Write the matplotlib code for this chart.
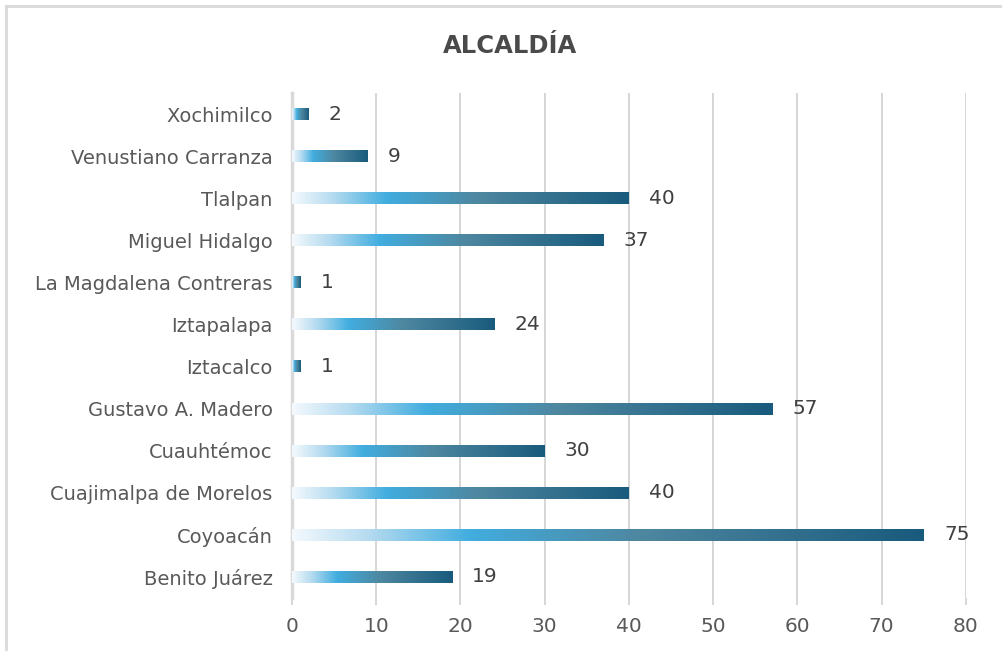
import matplotlib
matplotlib.use('Agg')
import matplotlib.pyplot as plt
from matplotlib.colors import LinearSegmentedColormap
from matplotlib.lines import Line2D
import numpy as np

plt.rcParams['font.family'] = ['DejaVu Sans']

Alcaldias = ['Benito Juárez', 'Coyoacán', 'Cuajimalpa de Morelos', 'Cuauhtémoc',
             'Gustavo A. Madero', 'Iztacalco', 'Iztapalapa', 'La Magdalena Contreras',
             'Miguel Hidalgo', 'Tlalpan', 'Venustiano Carranza', 'Xochimilco']
Valores = [19, 75, 40, 30, 57, 1, 24, 1, 37, 40, 9, 2]
Ticks = [0, 10, 20, 30, 40, 50, 60, 70, 80]

textColor = '#595959'
gradCmap = LinearSegmentedColormap.from_list(
    'grad', [(0.0, '#f4f9fd'), (0.12, '#b5dbf0'), (0.28, '#41addf'),
             (0.55, '#4e87a0'), (1.0, '#195b7d')])

fig = plt.figure(figsize=(10.02, 6.51), dpi=100)
ax = fig.add_axes([0.2914, 0.0814, 0.6726, 0.7756])

# marco del grafico (solo izquierda y arriba se ven)
x0, y0 = 6/1002, 1 - 6/651
fig.lines.append(Line2D([x0, x0], [0, y0], transform=fig.transFigure,
                        color='#d9d9d9', linewidth=2))
fig.lines.append(Line2D([x0, 1], [y0, y0], transform=fig.transFigure,
                        color='#d9d9d9', linewidth=2))

barH = 0.28
grad = np.linspace(0, 1, 256).reshape(1, -1)
for i, v in enumerate(Valores):
    ax.imshow(grad, cmap=gradCmap, aspect='auto', interpolation='bilinear',
              extent=(0, v, i - barH/2, i + barH/2), zorder=3)
    ax.annotate(str(v), (v, i), xytext=(14.5, 0), textcoords='offset points',
                va='center', ha='left', fontsize=14.5, color='#404040')

ax.set_xlim(0, 80)
ax.set_ylim(-0.5, len(Valores) - 0.5)
ax.set_xticks(Ticks)
ax.set_yticks(range(len(Alcaldias)))
ax.set_yticklabels(Alcaldias)
ax.tick_params(axis='x', length=5, width=1.2, color='#d0d0d0', labelsize=14.5,
               labelcolor=textColor, pad=9)
ax.tick_params(axis='y', length=0, labelsize=14, labelcolor=textColor, pad=14)
ax.grid(axis='x', color='#d0d0d0', linewidth=1.2, zorder=0)
ax.set_axisbelow(True)
for s in ['top', 'right', 'bottom']:
    ax.spines[s].set_visible(False)
ax.spines['left'].set_color('#d9d9d9')
ax.spines['left'].set_linewidth(2.5)

fig.text(0.509, 0.930, 'ALCALDÍA', ha='center', va='center', fontsize=17.5,
         color='#4a4a4a', fontweight='bold')

plt.savefig('out.png', dpi=100)
